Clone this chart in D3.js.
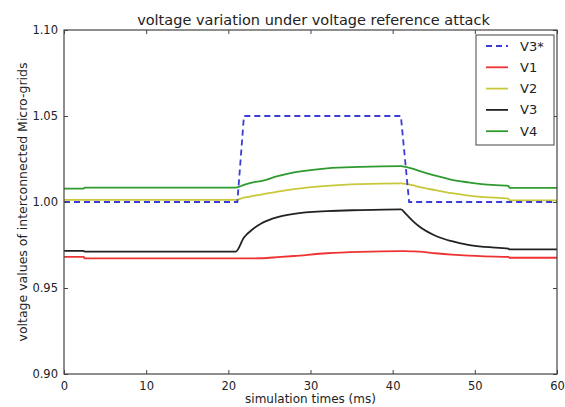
<!DOCTYPE html>
<html>
<head>
<meta charset="utf-8">
<script src="https://cdn.jsdelivr.net/npm/d3@7"></script>
<style>
  body { margin: 0; background: #fff; }
  text { font-family: "DejaVu Sans", sans-serif; fill: #222; }
</style>
</head>
<body>
<div id="viz-container"></div>
<script>
// values
let timeMs = [0, 2.4, 2.5, 20.9, 21.9, 23, 24, 26, 28, 32, 36, 41, 41.6, 42.4, 43.2, 45.2, 47.2, 49.2, 51.2, 54.1, 54.2, 60];
let v1 = [0.9681, 0.9681, 0.9672, 0.9672, 0.9672, 0.9672, 0.9673, 0.9679, 0.9686, 0.9702, 0.9710, 0.9714, 0.9714, 0.9713, 0.9712, 0.9702, 0.9694, 0.9688, 0.9684, 0.9681, 0.9676, 0.9676];
let v2 = [1.0012, 1.0012, 1.0012, 1.0012, 1.0025, 1.0035, 1.0043, 1.0060, 1.0075, 1.0094, 1.0104, 1.0108, 1.0106, 1.0098, 1.0088, 1.0069, 1.0051, 1.0037, 1.0028, 1.0019, 1.0010, 1.0010];
let v3 = [0.9716, 0.9716, 0.9712, 0.9712, 0.9794, 0.9843, 0.9875, 0.9912, 0.9931, 0.9947, 0.9953, 0.9957, 0.9931, 0.9892, 0.9859, 0.9804, 0.9772, 0.9751, 0.9739, 0.9729, 0.9724, 0.9724];
let v4 = [1.0078, 1.0078, 1.0084, 1.0084, 1.0100, 1.0114, 1.0122, 1.0150, 1.0172, 1.0196, 1.0204, 1.0208, 1.0204, 1.0194, 1.0181, 1.0153, 1.0129, 1.0114, 1.0102, 1.0094, 1.0082, 1.0082];

let refTime = [0, 21.1, 21.9, 41, 42, 60];
let v3ref = [1.00, 1.00, 1.05, 1.05, 1.00, 1.00];

let xTicks = [0, 10, 20, 30, 40, 50, 60];
let yTicks = [0.90, 0.95, 1.00, 1.05, 1.10];
let legendNames = ["V3*", "V1", "V2", "V3", "V4"];

let width = 565, height = 407;
let plotLeft = 64, plotRight = 557, plotTop = 30, plotBottom = 374;

let viz = d3.select("#viz-container")
  .append("svg")
    .attr("width", width)
    .attr("height", height);

let x = d3.scaleLinear().domain([0, 60]).range([plotLeft, plotRight]);
let y = d3.scaleLinear().domain([0.90, 1.10]).range([plotBottom, plotTop]);

function toPoints(ts, vs) {
  return ts.map(function(t, i) { return [t, vs[i]]; });
}

let line = d3.line()
  .x(function(d) { return x(d[0]); })
  .y(function(d) { return y(d[1]); })
  .curve(d3.curveMonotoneX);

let straight = d3.line()
  .x(function(d) { return x(d[0]); })
  .y(function(d) { return y(d[1]); });

let series = [
  { name: legendNames[0], pts: toPoints(refTime, v3ref), color: "#3b3bd6", dash: "6,4", gen: straight },
  { name: legendNames[1], pts: toPoints(timeMs, v1), color: "#ee3333", dash: null, gen: line },
  { name: legendNames[2], pts: toPoints(timeMs, v2), color: "#c8c83a", dash: null, gen: line },
  { name: legendNames[3], pts: toPoints(timeMs, v3), color: "#222222", dash: null, gen: line },
  { name: legendNames[4], pts: toPoints(timeMs, v4), color: "#2f9a2f", dash: null, gen: line }
];

// draw solid lines first, reference dashed on top
let order = [1, 2, 3, 4, 0];
order.forEach(function(k) {
  let s = series[k];
  viz.append("path")
    .attr("d", s.gen(s.pts))
    .attr("fill", "none")
    .attr("stroke", s.color)
    .attr("stroke-width", 1.8)
    .attr("stroke-dasharray", s.dash);
});

// axes, ticks pointing inward like matplotlib classic
let xAxis = d3.axisBottom(x).tickValues(xTicks).tickSize(-4).tickPadding(8).tickFormat(d3.format("d"));
let yAxis = d3.axisLeft(y).tickValues(yTicks).tickSize(-4).tickPadding(6).tickFormat(d3.format(".2f"));

let gx = viz.append("g").attr("transform", "translate(0," + plotBottom + ")").call(xAxis);
let gy = viz.append("g").attr("transform", "translate(" + plotLeft + ",0)").call(yAxis);
let gt = viz.append("g").attr("transform", "translate(0," + plotTop + ")")
  .call(d3.axisTop(x).tickValues(xTicks).tickSize(-4).tickFormat(""));
let gr = viz.append("g").attr("transform", "translate(" + plotRight + ",0)")
  .call(d3.axisRight(y).tickValues(yTicks).tickSize(-4).tickFormat(""));

[gx, gy, gt, gr].forEach(function(g) {
  g.select(".domain").remove();
  g.selectAll(".tick line").attr("stroke", "#444");
  g.selectAll(".tick text").attr("font-size", 11.5).attr("fill", "#222")
    .attr("font-family", "DejaVu Sans, sans-serif");
});

viz.append("rect")
  .attr("x", plotLeft).attr("y", plotTop)
  .attr("width", plotRight - plotLeft).attr("height", plotBottom - plotTop)
  .attr("fill", "none").attr("stroke", "#444").attr("stroke-width", 1.2);

// title and axis labels
viz.append("text")
  .attr("x", (plotLeft + plotRight) / 2 + 3).attr("y", 25)
  .attr("text-anchor", "middle").attr("font-size", 14.5)
  .text("voltage variation under voltage reference attack");

viz.append("text")
  .attr("x", (plotLeft + plotRight) / 2).attr("y", 403)
  .attr("text-anchor", "middle").attr("font-size", 12)
  .text("simulation times (ms)");

viz.append("text")
  .attr("transform", "translate(27," + ((plotTop + plotBottom) / 2) + ") rotate(-90)")
  .attr("text-anchor", "middle").attr("font-size", 12.5)
  .text("voltage values of interconnected Micro-grids");

// legend
let lg = viz.append("g").attr("transform", "translate(476,35)");
lg.append("rect")
  .attr("width", 78).attr("height", 110)
  .attr("fill", "#fff").attr("stroke", "#444").attr("stroke-width", 1);

let items = lg.selectAll(".item").data(series).enter().append("g")
  .attr("class", "item")
  .attr("transform", function(d, i) { return "translate(0," + (11 + i * 21.3) + ")"; });

items.append("line")
  .attr("x1", 10).attr("x2", 32).attr("y1", 0).attr("y2", 0)
  .attr("stroke", function(d) { return d.color; })
  .attr("stroke-width", 1.8)
  .attr("stroke-dasharray", function(d) { return d.dash; });

items.append("text")
  .attr("x", 44).attr("y", 4.5)
  .attr("font-size", 13)
  .text(function(d) { return d.name; });
</script>
</body>
</html>
